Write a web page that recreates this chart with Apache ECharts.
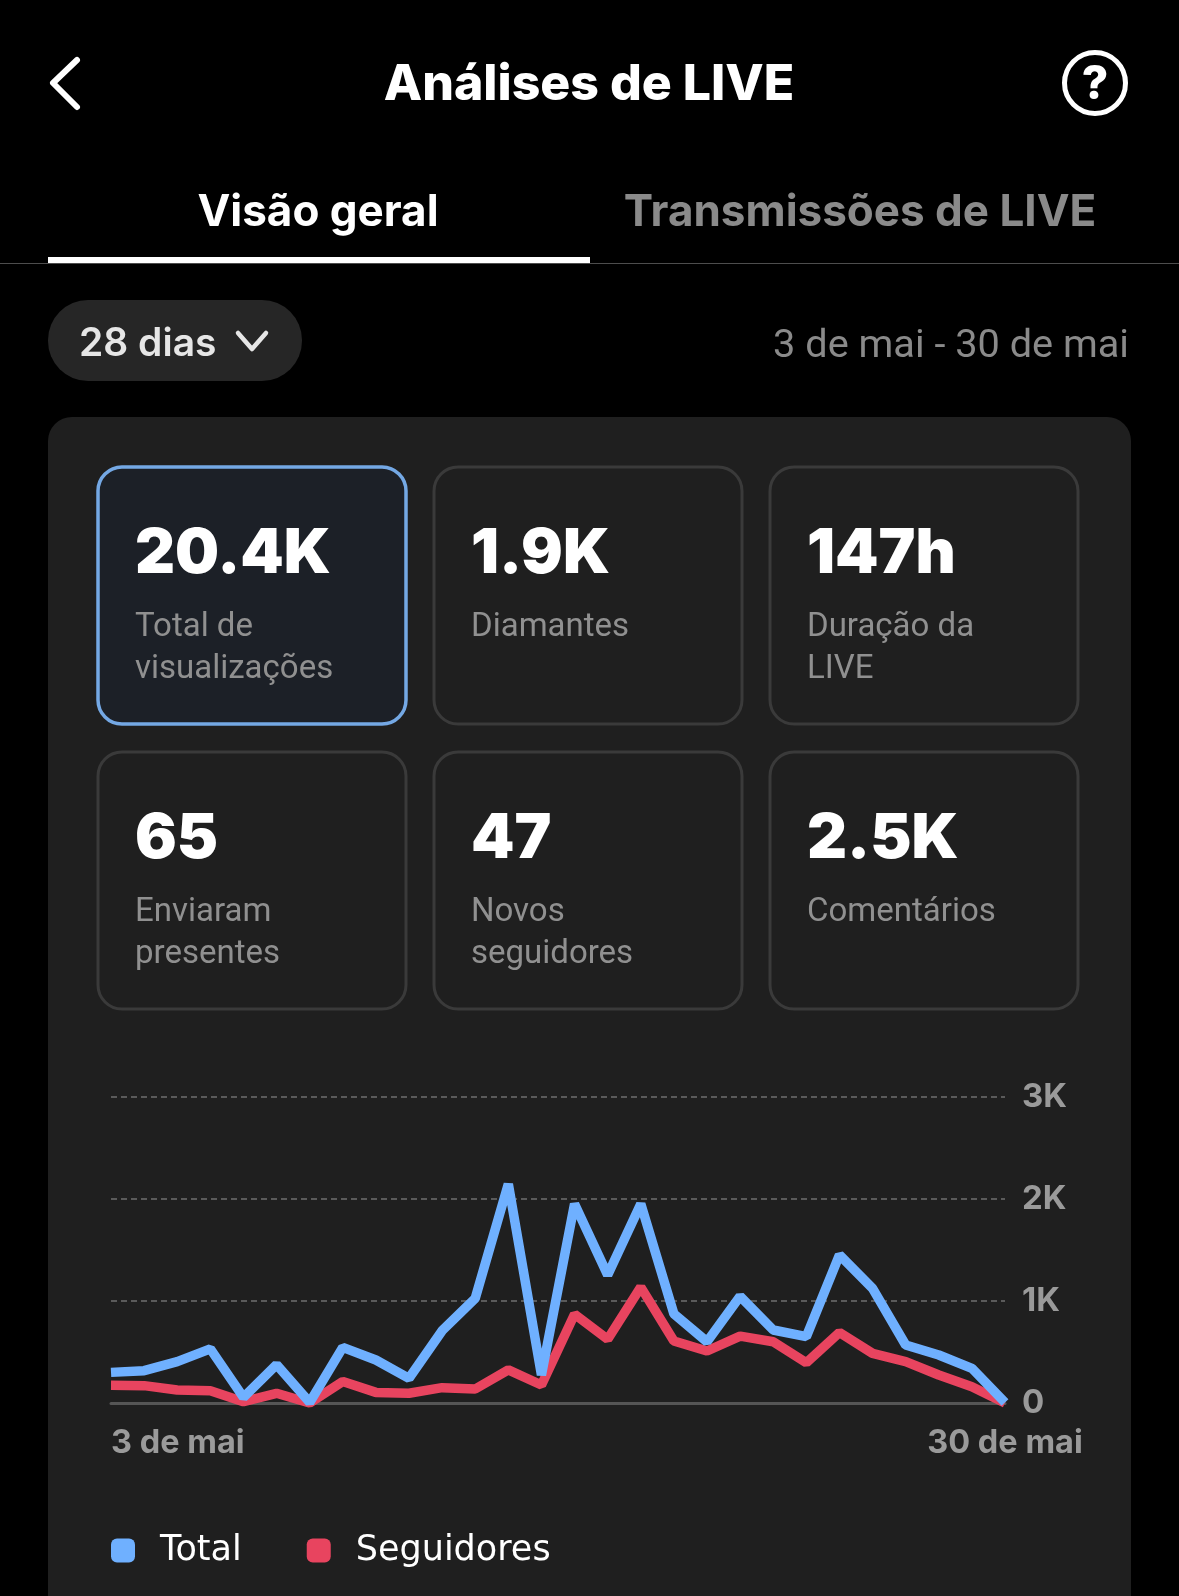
<!DOCTYPE html>
<html><head><meta charset="utf-8">
<style>html,body{margin:0;padding:0;background:#000}#c{width:1179px;height:1596px}</style>
<script src="https://cdn.jsdelivr.net/npm/echarts@6/dist/echarts.min.js"></script>
</head><body><div id="c"></div>
<script>
const days = ['3 de mai','4 de mai','5 de mai','6 de mai','7 de mai','8 de mai','9 de mai','10 de mai','11 de mai','12 de mai','13 de mai','14 de mai','15 de mai','16 de mai','17 de mai','18 de mai','19 de mai','20 de mai','21 de mai','22 de mai','23 de mai','24 de mai','25 de mai','26 de mai','27 de mai','28 de mai','29 de mai','30 de mai'];
const totalValues = [300,317,405,530,55,375,5,545,421,242,708,1025,2145,274,1950,1254,1950,872,600,1045,715,650,1450,1123,568,470,340,5];
const followerValues = [173,170,127,120,13,95,0,210,104,95,150,137,325,176,870,624,1135,607,509,655,600,395,690,486,405,274,160,0];
const metricValues = ['20.4K','1.9K','147h','65','47','2.5K'];
const metricLabels = ['Total de\nvisualizações','Diamantes','Duração da\nLIVE','Enviaram\npresentes','Novos\nseguidores','Comentários'];
const titleText = 'Análises de LIVE';
const tabLabels = ['Visão geral','Transmissões de LIVE'];
const rangeLabel = '28 dias';
const dateRange = '3 de mai - 30 de mai';

const UI = 'Inter, "Noto Sans", sans-serif';
const BODY = 'Roboto, "Noto Sans", sans-serif';
const g = [];
const txt = (x,y,text,font,size,weight,fill,align,extra) => g.push({type:'text',x,y,z:10,style:Object.assign({text,fontFamily:font,fontSize:size,fontWeight:weight,fill,align:align||'left',verticalAlign:'middle'},extra||{})});
const rect = (x,y,w,h,r,fill,stroke,lw,z) => g.push({type:'rect',z:z||1,shape:{x,y,width:w,height:h,r},style:{fill,stroke:stroke||null,lineWidth:lw||0}});
const poly = (pts,stroke,lw) => g.push({type:'polyline',z:10,shape:{points:pts},style:{stroke,lineWidth:lw,fill:null,lineCap:'round',lineJoin:'round'}});

// header
poly([[77,60],[53,83],[77,107]],'#fff',6);
txt(589,85,titleText,UI,50,800,'#fff','center');
g.push({type:'circle',z:10,shape:{cx:1095,cy:83,r:30.5},style:{fill:null,stroke:'#fff',lineWidth:5}});
txt(1095,85,'?',UI,46,800,'#fff','center');
// tabs
txt(318,213,tabLabels[0],UI,44,700,'#fff','center');
txt(860,213,tabLabels[1],UI,44,700,'#8a8a8a','center');
rect(0,263,1179,1,0,'#4d4d4d');
rect(48,257,542,6,0,'#fff',null,0,2);
// filter
rect(48,300,254,81,40,'#262626');
txt(79,344,rangeLabel,UI,39,600,'#e6e6e6');
poly([[238,333],[252,349],[266,333]],'#e6e6e6',4.5);
txt(1129,347,dateRange,BODY,39.7,400,'#8a8a8a','right');
// panel + cards
rect(48,417,1083,1300,24,'#1f1f1f');
const cx=[97,433,769], cy=[466,751];
metricValues.forEach((v,i)=>{
  const col=i%3,row=Math.floor(i/3),x=cx[col],y=cy[row],sel=i===0;
  rect(x+1,y+1,308,257,24,sel?'#1c2027':'#1f1f1f',sel?'#74a8e4':'#3a3a3a',sel?3.5:3,2);
  txt(x+38,y+88,v,UI,62,900,'#fff');
  g.push({type:'text',x:x+38,y:y+141,z:10,style:{text:metricLabels[i],fontFamily:BODY,fontSize:33,fontWeight:400,fill:'#909090',lineHeight:42,verticalAlign:'top'}});
});

const chart = echarts.init(document.getElementById('c'),null,{width:1179,height:1596});
chart.setOption({
  animation:false,
  backgroundColor:'#000',
  graphic:g,
  grid:{left:111,right:174,top:1096.7,height:306.3,containLabel:false},
  legend:{data:['Total','Seguidores'],left:111,top:1533,padding:0,itemWidth:24,itemHeight:24,itemGap:65,icon:'roundRect',
    textStyle:{color:'#fff',fontFamily:'"DejaVu Sans"',fontSize:35,padding:[0,0,4,20]}},
  xAxis:{type:'category',data:days,boundaryGap:false,z:5,
    axisLine:{show:true,lineStyle:{color:'#555',width:3}},axisTick:{show:false},
    axisLabel:{interval:(i)=>i===0||i===days.length-1,color:'#9a9a9a',fontFamily:UI,fontSize:32.5,fontWeight:700,margin:24,
      hideOverlap:false,alignMinLabel:'left',alignMaxLabel:'center'}},
  yAxis:{type:'value',position:'right',min:0,max:3000,interval:1000,z:5,
    axisLine:{show:false},axisTick:{show:false},
    splitLine:{show:true,lineStyle:{type:[6,4],color:'#5a5a5a',width:2}},
    axisLabel:{color:'#9a9a9a',fontFamily:UI,fontSize:33,fontWeight:700,margin:17,formatter:v=>v===0?'0':(v/1000)+'K'}},
  series:[
    {name:'Seguidores',type:'line',data:followerValues,symbol:'none',clip:false,color:'#e8445f',lineStyle:{width:9.5,join:'bevel',cap:'butt'},z:6},
    {name:'Total',type:'line',data:totalValues,symbol:'none',clip:false,color:'#6fb0ff',lineStyle:{width:9.5,join:'bevel',cap:'butt'},z:7}
  ]
});
</script></body></html>
